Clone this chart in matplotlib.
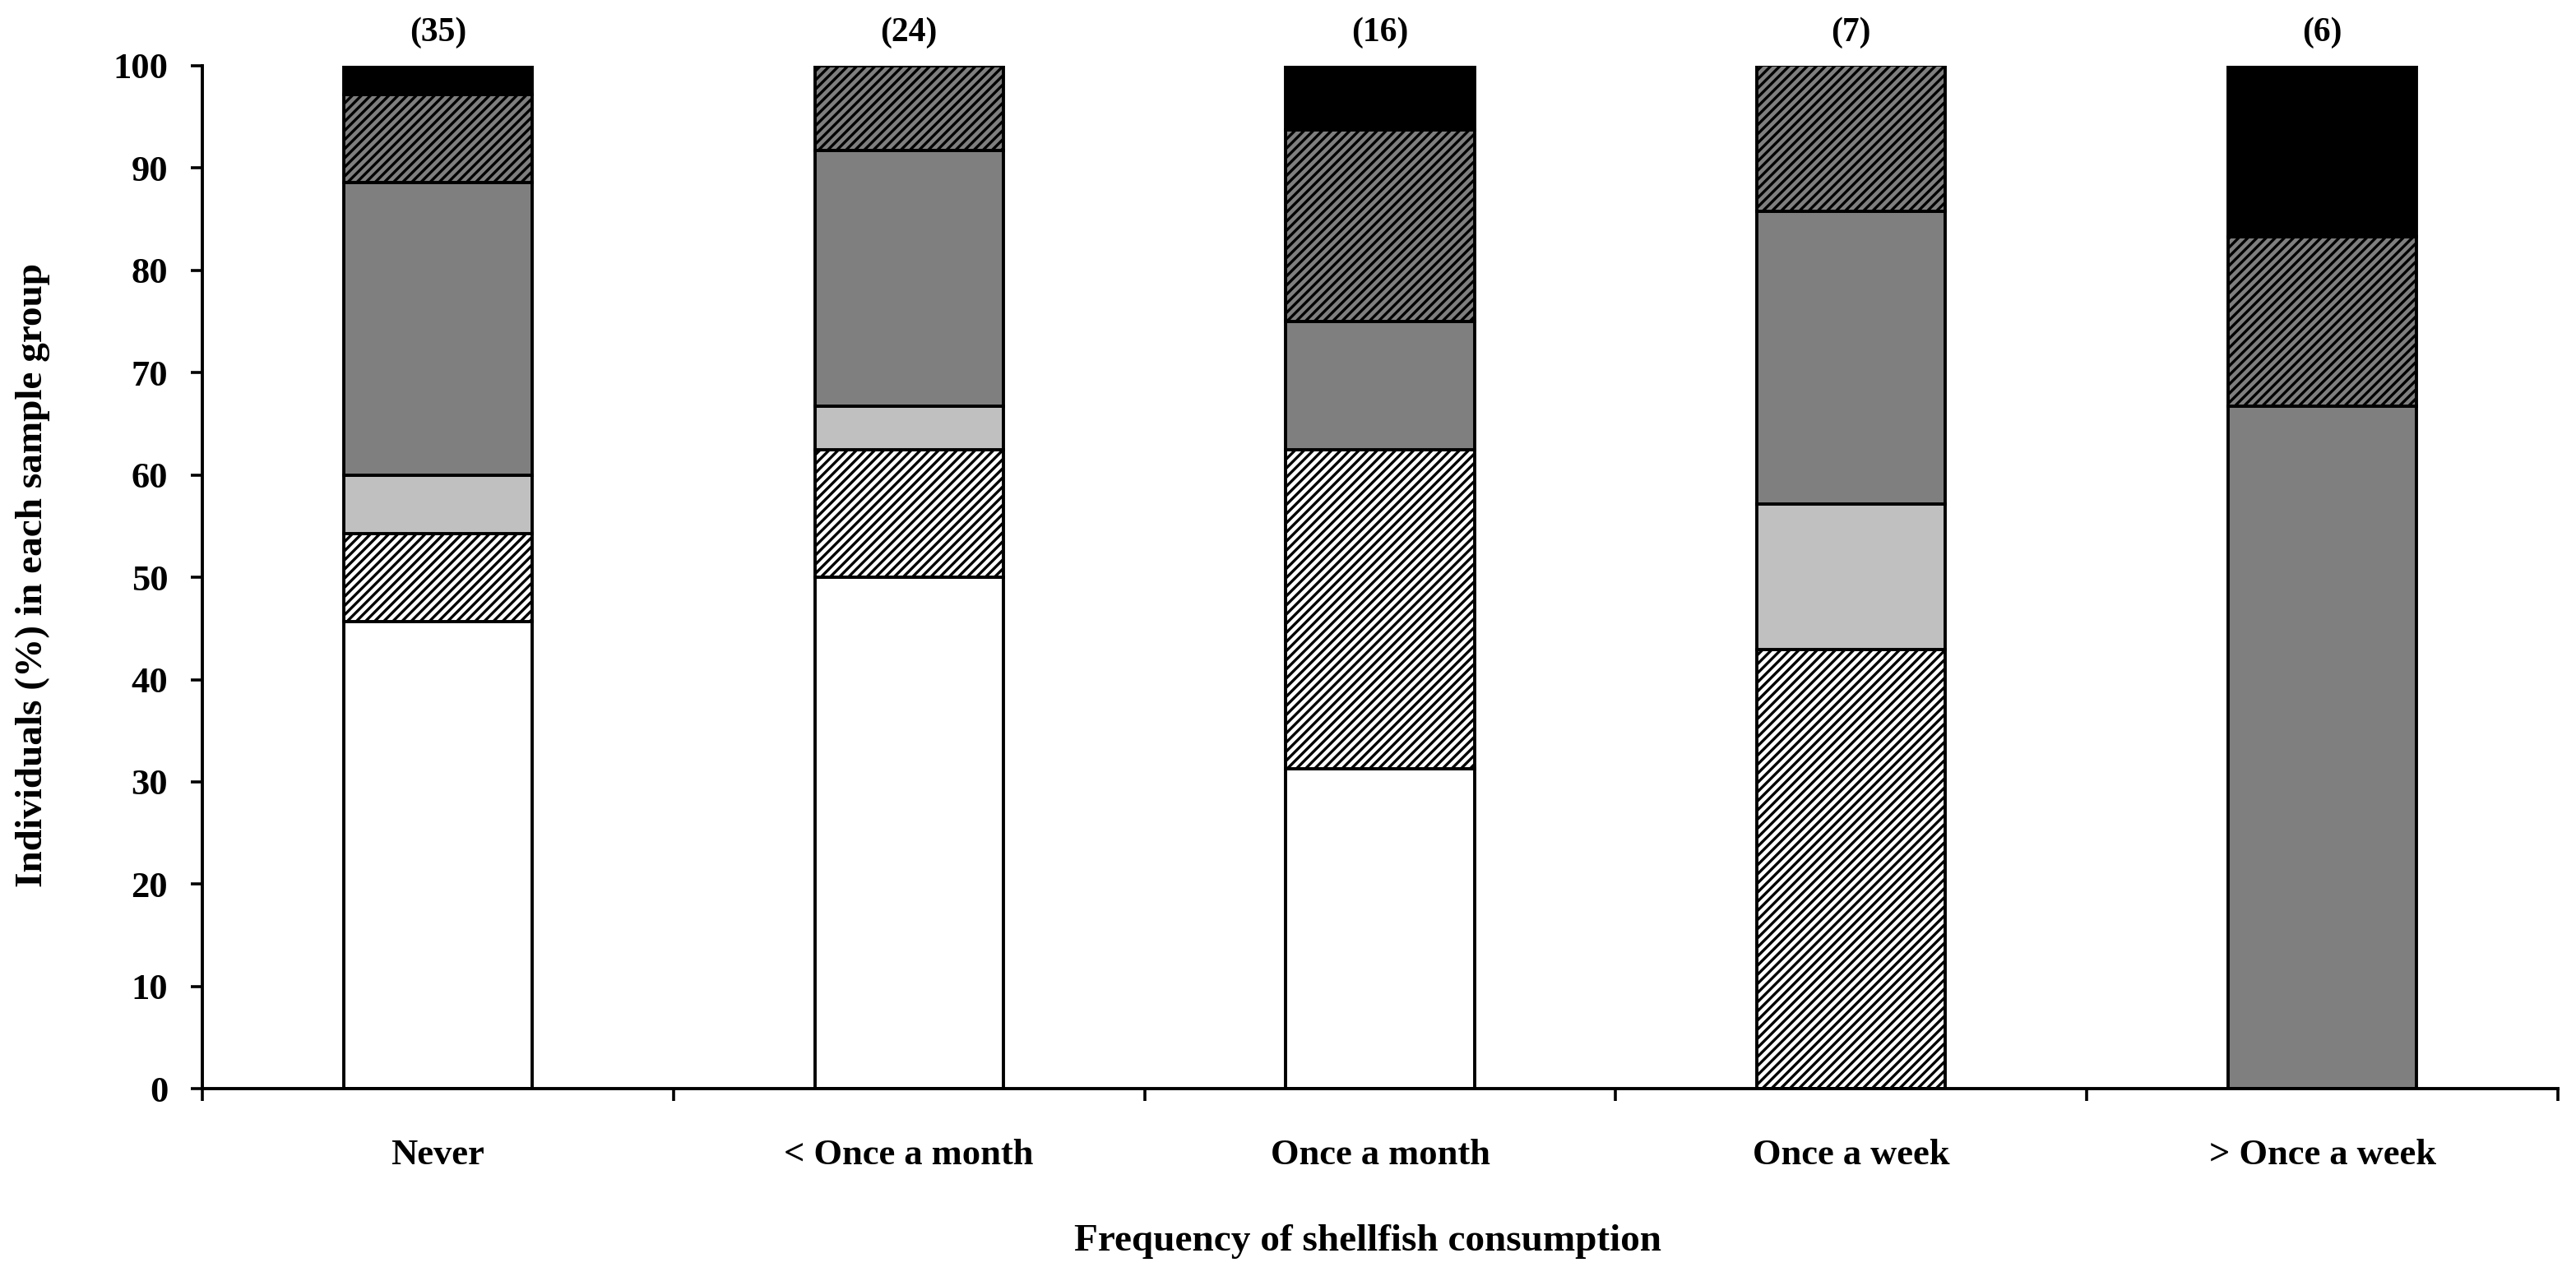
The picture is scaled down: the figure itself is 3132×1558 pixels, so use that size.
import matplotlib
matplotlib.use("Agg")
import matplotlib.pyplot as plt
import numpy as np

plt.rcParams['font.family'] = ['Liberation Serif', 'DejaVu Serif']
plt.rcParams['font.weight'] = 'bold'
plt.rcParams['hatch.linewidth'] = 1.2

categories = ['Never', '< Once a month', 'Once a month', 'Once a week', '> Once a week']
group_n = ['(35)', '(24)', '(16)', '(7)', '(6)']

# stacked segments, bottom to top (% of individuals)
seg_white = [45.7, 50.0, 31.25, 0, 0]
seg_white_hatch = [8.6, 12.5, 31.25, 42.9, 0]
seg_lightgray = [5.7, 4.2, 0, 14.3, 0]
seg_gray = [28.6, 25.0, 12.5, 28.6, 66.7]
seg_gray_hatch = [8.6, 8.3, 18.75, 14.3, 16.6]
seg_black = [2.9, 0, 6.25, 0, 16.7]

segments = [
    (seg_white, 'white', None),
    (seg_white_hatch, 'white', '//////'),
    (seg_lightgray, '#c0c0c0', None),
    (seg_gray, '#7f7f7f', None),
    (seg_gray_hatch, '#7f7f7f', '//////'),
    (seg_black, 'black', None),
]

fig = plt.figure(figsize=(15.66, 7.79), dpi=200)
ax = fig.add_axes([0.0785, 0.150, 0.9145, 0.7987])

x = np.arange(len(categories))
bottom = np.zeros(len(categories))
for vals, color, hatch in segments:
    vals = np.array(vals, dtype=float)
    ax.bar(x, vals, width=0.40, bottom=bottom, color=color, edgecolor='black',
           linewidth=1.4, hatch=hatch, zorder=2)
    bottom += vals

ax.set_xlim(-0.5, len(categories) - 0.5)
ax.set_ylim(0, 100)
ax.set_yticks(np.arange(0, 101, 10))

ax.set_xticks(np.arange(-0.5, len(categories), 1.0))
ax.set_xticklabels([])
ax.set_xticks(x, minor=True)
ax.set_xticklabels(categories, minor=True)
ax.tick_params(axis='x', which='minor', length=0, pad=22, labelsize=16)
ax.tick_params(axis='x', which='major', length=5.5, width=1.3, direction='out')
ax.tick_params(axis='y', length=5, width=1.3, direction='out', pad=10, labelsize=16)

for side in ['top', 'right']:
    ax.spines[side].set_visible(False)
for side in ['left', 'bottom']:
    ax.spines[side].set_linewidth(1.4)

for xi, lab in zip(x, group_n):
    ax.text(xi, 1.032, lab, transform=ax.get_xaxis_transform(), ha='center',
            va='center', fontsize=15, fontweight='bold')

fig.text(0.0128, 0.551, 'Individuals (%) in each sample group', rotation=90,
         ha='center', va='center', fontsize=17, fontweight='bold')
fig.text(0.531, 0.031, 'Frequency of shellfish consumption', ha='center',
         va='center', fontsize=17, fontweight='bold')

fig.savefig('out.png', dpi=200)
